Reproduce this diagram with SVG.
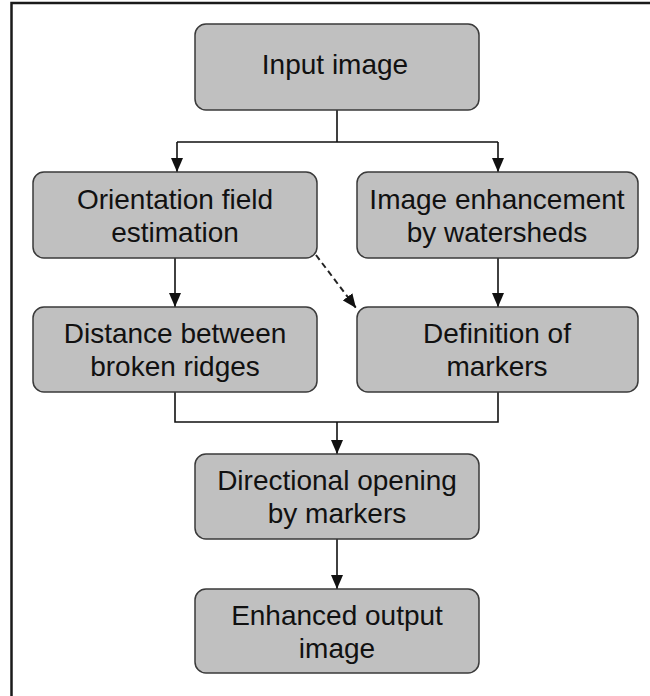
<svg xmlns="http://www.w3.org/2000/svg" width="650" height="696" viewBox="0 0 650 696">
<style>
.box{fill:#c0c0c0;stroke:#3a3a3a;stroke-width:1.5}
.t{font-family:"Liberation Sans",Arial,sans-serif;font-size:28px;fill:#111;text-anchor:middle}
.c{fill:none;stroke:#111;stroke-width:1.6}
.d{fill:none;stroke:#222;stroke-width:2;stroke-dasharray:6,4}
</style>
<defs>
<marker id="ah" markerUnits="userSpaceOnUse" markerWidth="14" markerHeight="12" refX="14" refY="6" orient="auto">
<path d="M0,0 L14,6 L0,12 z" fill="#111"/>
</marker>
</defs>
<rect x="0" y="0" width="650" height="696" fill="#fff"/>
<path d="M11.5,696 V3 H650" fill="none" stroke="#1a1a1a" stroke-width="2.5"/>
<g id="connectors">
<path class="c" d="M337,110 V142 M177,142 H498"/>
<path class="c" d="M177,142 V172" marker-end="url(#ah)"/>
<path class="c" d="M498,142 V172" marker-end="url(#ah)"/>
<path class="c" d="M175,258 V307" marker-end="url(#ah)"/>
<path class="c" d="M498,258 V307" marker-end="url(#ah)"/>
<path class="d" d="M316,255 L356,308" marker-end="url(#ah)"/>
<path class="c" d="M175,392 V422 H498 V392"/>
<path class="c" d="M337,422 V454" marker-end="url(#ah)"/>
<path class="c" d="M337,539 V589" marker-end="url(#ah)"/>
</g>
<g id="input">
<rect class="box" x="195" y="24" width="284" height="86" rx="11"/>
<text class="t" x="335" y="74">Input image</text>
</g>
<g id="orientation">
<rect class="box" x="33" y="172" width="284" height="86" rx="11"/>
<text class="t" x="175" y="208.5">Orientation field</text>
<text class="t" x="175" y="241.5">estimation</text>
</g>
<g id="enhancement">
<rect class="box" x="357" y="172" width="281" height="86" rx="11"/>
<text class="t" x="497" y="208.5">Image enhancement</text>
<text class="t" x="497" y="241.5">by watersheds</text>
</g>
<g id="distance">
<rect class="box" x="33" y="307" width="284" height="85" rx="11"/>
<text class="t" x="175" y="342.5">Distance between</text>
<text class="t" x="175" y="375.5">broken ridges</text>
</g>
<g id="markers">
<rect class="box" x="357" y="307" width="281" height="85" rx="11"/>
<text class="t" x="497" y="342.5">Definition of</text>
<text class="t" x="497" y="375.5">markers</text>
</g>
<g id="directional">
<rect class="box" x="195" y="454" width="284" height="85" rx="11"/>
<text class="t" x="337" y="490">Directional opening</text>
<text class="t" x="337" y="523">by markers</text>
</g>
<g id="output">
<rect class="box" x="195" y="589" width="284" height="84" rx="11"/>
<text class="t" x="337" y="624.5">Enhanced output</text>
<text class="t" x="337" y="657.5">image</text>
</g>
</svg>
